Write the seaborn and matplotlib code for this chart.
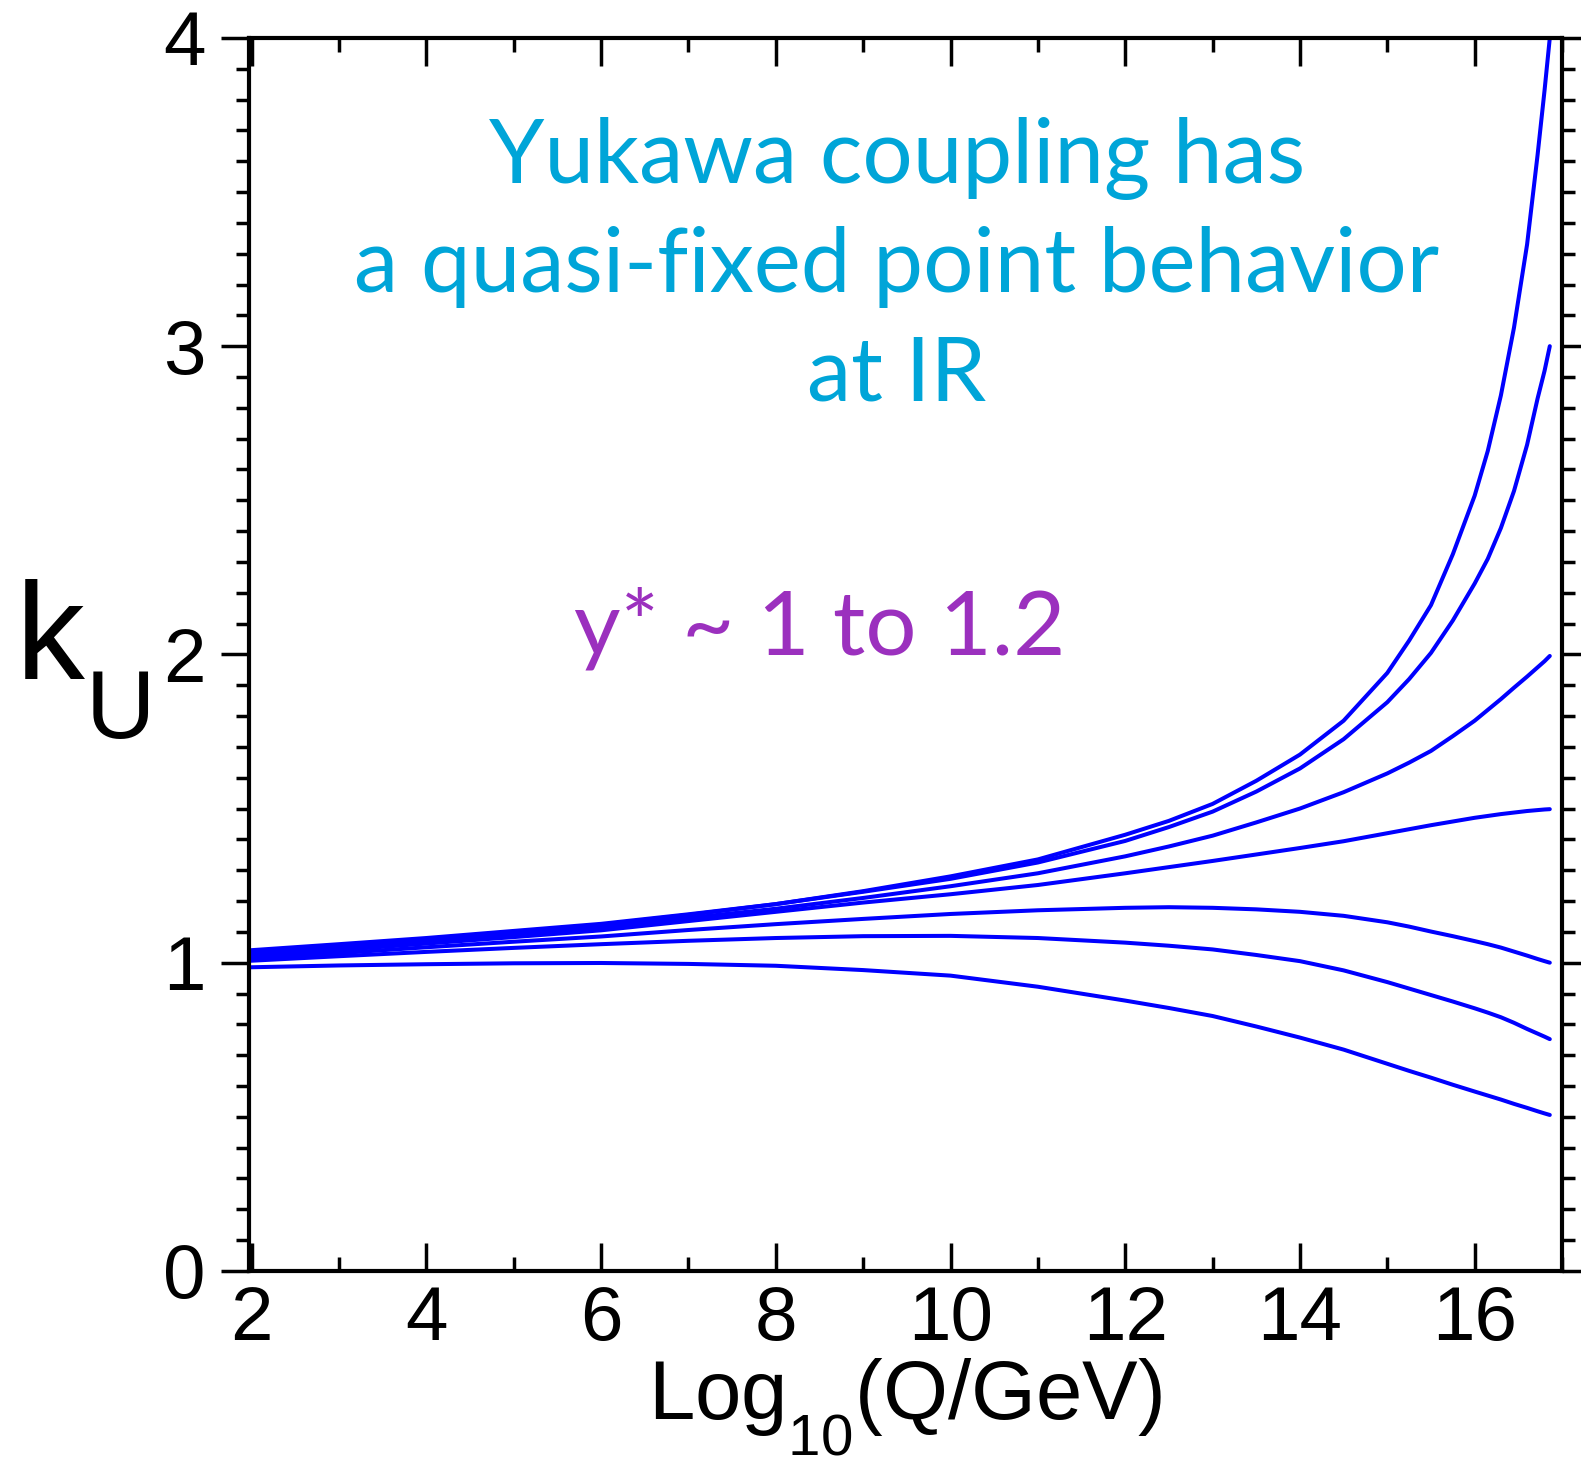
import numpy as np
import pandas as pd
import matplotlib
matplotlib.use("Agg")
import matplotlib.pyplot as plt
from matplotlib.ticker import MultipleLocator
import matplotlib._mathtext as _mt
import seaborn as sns

# ---- data ----
log_q = [1.97, 3, 4, 5, 6, 7, 8, 9, 10, 11, 12, 12.5, 13, 13.5, 14, 14.5, 15,
         15.25, 15.5, 15.75, 16, 16.15, 16.3, 16.45, 16.6, 16.72, 16.8, 16.86]
ku2_a = [1.040, 1.060, 1.080, 1.103, 1.126, 1.157, 1.190, 1.232, 1.280, 1.335, 1.415, 1.460, 1.515, 1.590,
         1.675, 1.785, 1.940, 2.045, 2.160, 2.325, 2.515, 2.660, 2.840, 3.060, 3.330, 3.620, 3.830, 4.000]
ku2_b = [1.036, 1.056, 1.077, 1.100, 1.123, 1.155, 1.190, 1.230, 1.272, 1.325, 1.395, 1.440, 1.490, 1.555,
         1.630, 1.725, 1.845, 1.920, 2.005, 2.110, 2.230, 2.310, 2.410, 2.530, 2.680, 2.830, 2.920, 3.000]
ku2_c = [1.028, 1.049, 1.070, 1.092, 1.115, 1.145, 1.175, 1.210, 1.248, 1.290, 1.345, 1.377, 1.412, 1.455,
         1.500, 1.553, 1.614, 1.649, 1.687, 1.735, 1.785, 1.820, 1.855, 1.892, 1.928, 1.958, 1.978, 1.995]
ku2_d = [1.020, 1.041, 1.062, 1.083, 1.105, 1.135, 1.165, 1.195, 1.222, 1.252, 1.290, 1.310, 1.330, 1.351,
         1.372, 1.394, 1.420, 1.433, 1.446, 1.458, 1.470, 1.476, 1.482, 1.487, 1.492, 1.495, 1.497, 1.498]
ku2_e = [1.011, 1.031, 1.050, 1.068, 1.085, 1.106, 1.125, 1.142, 1.158, 1.170, 1.178, 1.180, 1.178, 1.173,
         1.165, 1.152, 1.131, 1.117, 1.101, 1.086, 1.070, 1.060, 1.049, 1.036, 1.023, 1.012, 1.005, 1.000]
ku2_f = [1.006, 1.021, 1.035, 1.048, 1.060, 1.071, 1.080, 1.086, 1.087, 1.080, 1.065, 1.055, 1.043, 1.025,
         1.005, 0.975, 0.937, 0.916, 0.895, 0.874, 0.852, 0.838, 0.823, 0.805, 0.785, 0.770, 0.760, 0.752]
ku2_g = [0.985, 0.991, 0.995, 0.998, 0.999, 0.996, 0.990, 0.976, 0.958, 0.922, 0.877, 0.853, 0.827, 0.793,
         0.757, 0.718, 0.672, 0.649, 0.627, 0.604, 0.582, 0.569, 0.556, 0.542, 0.529, 0.518, 0.511, 0.506]

curve_names = ["a", "b", "c", "d", "e", "f", "g"]
curve_values = [ku2_a, ku2_b, ku2_c, ku2_d, ku2_e, ku2_f, ku2_g]

x_ticks = [2, 4, 6, 8, 10, 12, 14, 16]
y_ticks = [0, 1, 2, 3, 4]

title_lines = ["Yukawa coupling has", "a quasi-fixed point behavior", "at IR"]
note_text = "y* ~ 1 to 1.2"

df = pd.DataFrame({
    "logQ": np.concatenate([log_q] * len(curve_names)),
    "ku2": np.concatenate(curve_values),
    "curve": np.repeat(curve_names, len(log_q)),
})

# ---- style ----
sns.set_style("ticks")
plt.rcParams["font.family"] = ["Liberation Sans", "DejaVu Sans"]
plt.rcParams["mathtext.fontset"] = "custom"
plt.rcParams["mathtext.rm"] = "Liberation Sans"
plt.rcParams["mathtext.it"] = "Liberation Sans"
# deeper subscripts, as in the reference labels
_mt.FontConstantsBase.sub1 = 0.82

fig = plt.figure(figsize=(15.81, 14.58), dpi=100)
ax = fig.add_axes([0.1575, 0.1283, 0.8305, 0.8457])

sns.lineplot(data=df, x="logQ", y="ku2", hue="curve", palette=["#0000FF"] * 7,
             estimator=None, sort=False, legend=False, linewidth=2.9, ax=ax)

ax.set_xlim(1.97, 17.0)
ax.set_ylim(0, 4)
ax.set_xticks(x_ticks)
ax.set_yticks(y_ticks)
ax.xaxis.set_minor_locator(MultipleLocator(1))
ax.yaxis.set_minor_locator(MultipleLocator(0.1))

for sp in ax.spines.values():
    sp.set_visible(True)
    sp.set_linewidth(3)
    sp.set_color("black")

ax.tick_params(axis="x", which="both", direction="in", top=True, bottom=True,
               width=2.5, labelsize=55, pad=10, colors="black")
ax.tick_params(axis="x", which="major", length=20)
ax.tick_params(axis="x", which="minor", length=10)
ax.tick_params(axis="y", which="both", direction="out", left=True, right=True,
               width=2.5, labelsize=55, pad=11, colors="black")
ax.tick_params(axis="y", which="major", length=20)
ax.tick_params(axis="y", which="minor", length=9.5)

ax.set_xlabel(r"$\mathregular{Log_{10}(Q/GeV)}$", fontsize=60, labelpad=0.5, color="black")
ax.set_ylabel(r"$\mathregular{k_U}$", fontsize=99, rotation=0, ha="left", va="center",
              color="black")
ax.yaxis.set_label_coords(-0.178, 0.495)

cyan = "#00A5D8"
purple = "#9B30BE"
for line, yb in zip(title_lines, [0.8824, 0.7940, 0.7056]):
    ax.text(0.4935, yb, line, transform=ax.transAxes, ha="center", va="baseline",
            fontsize=64, color=cyan, family=["Lato", "DejaVu Sans"])
ax.text(0.4349, 0.4996, note_text, transform=ax.transAxes, ha="center", va="baseline",
        fontsize=65, color=purple, family=["Lato", "DejaVu Sans"])

fig.savefig("out.png", dpi=100)
